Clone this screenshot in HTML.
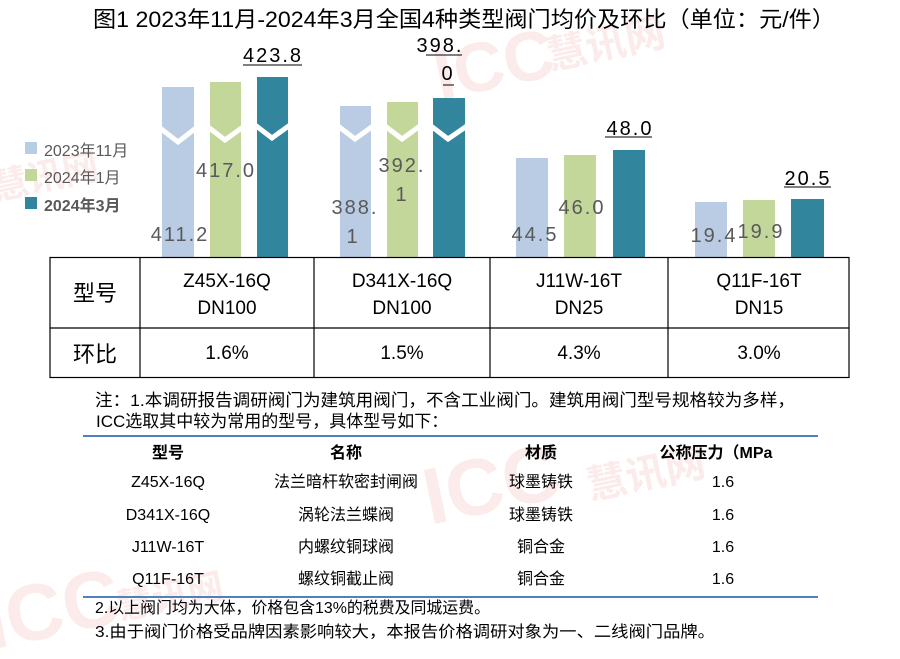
<!DOCTYPE html>
<html><head><meta charset="utf-8"><style>
body{margin:0;background:#fff;}
svg{display:block;font-family:"Liberation Sans","Noto Sans CJK SC",sans-serif;}
</style></head><body>
<svg width="900" height="659" viewBox="0 0 900 659" xmlns="http://www.w3.org/2000/svg">
<g fill="#f9e3e3" font-weight="bold" opacity="0.7">
<text x="440" y="100" font-size="70" transform="rotate(-12 440 100)">ICC</text>
<text x="550" y="70" font-size="40" transform="rotate(-12 550 70)">慧讯网</text>
<text x="430" y="525" font-size="80" transform="rotate(-12 430 525)">ICC</text>
<text x="590" y="500" font-size="40" transform="rotate(-12 590 500)">慧讯网</text>
<text x="-10" y="650" font-size="80" transform="rotate(-12 -10 650)">ICC</text>
<text x="120" y="620" font-size="36" transform="rotate(-12 120 620)">慧讯网</text>
<text x="-5" y="200" font-size="36" transform="rotate(-12 -5 200)">慧讯网</text>
</g>
<text x="464" y="27" text-anchor="middle" font-size="22" fill="#000" textLength="742" lengthAdjust="spacingAndGlyphs">图1 2023年11月-2024年3月全国4种类型阀门均价及环比（单位：元/件）</text>
<rect x="25" y="142" width="12" height="12" fill="#b9cce4"/>
<rect x="25" y="169" width="12" height="12" fill="#c4d79b"/>
<rect x="25" y="197" width="12" height="12" fill="#31859c"/>
<text x="44" y="156" font-size="16" fill="#595959">2023年11月</text>
<text x="44" y="183" font-size="16" fill="#595959">2024年1月</text>
<text x="44" y="211" font-size="16" fill="#595959" font-weight="bold">2024年3月</text>
<g>
<rect x="162" y="87" width="32" height="170" fill="#b9cce4"/>
<rect x="210" y="82" width="31" height="175" fill="#c4d79b"/>
<rect x="257" y="77" width="31" height="180" fill="#31859c"/>
<rect x="340" y="106" width="31" height="151" fill="#b9cce4"/>
<rect x="387" y="102" width="31" height="155" fill="#c4d79b"/>
<rect x="433" y="98" width="32" height="159" fill="#31859c"/>
<rect x="516" y="158" width="32" height="99" fill="#b9cce4"/>
<rect x="564" y="155" width="32" height="102" fill="#c4d79b"/>
<rect x="613" y="150" width="32" height="107" fill="#31859c"/>
<rect x="695" y="202" width="32" height="55" fill="#b9cce4"/>
<rect x="743" y="200" width="32" height="57" fill="#c4d79b"/>
<rect x="791" y="199" width="33" height="58" fill="#31859c"/>
</g>
<g fill="none" stroke="#fff" stroke-width="5">
<polyline points="160,128 178,142 196,128"/>
<polyline points="208,127 225,140 243,127"/>
<polyline points="255,125 272,138 290,125"/>
<polyline points="338,126 355,139 373,126"/>
<polyline points="385,126 402,139 420,126"/>
<polyline points="431,126 448,139 467,126"/>
</g>
<g font-size="20" fill="#595959" text-anchor="middle" letter-spacing="2">
<text x="180" y="241">411.2</text>
<text x="226" y="177">417.0</text>
<text x="355" y="214">388.</text><text x="353" y="243">1</text>
<text x="402" y="172">392.</text><text x="402" y="201">1</text>
<text x="535" y="241">44.5</text>
<text x="582" y="214">46.0</text>
<text x="714" y="242">19.4</text>
<text x="761" y="238">19.9</text>
</g>
<g font-size="20" fill="#000" text-anchor="middle" letter-spacing="2">
<text x="273" y="62">423.8</text>
<text x="440" y="52">398.</text><text x="448" y="80">0</text>
<text x="630" y="135">48.0</text>
<text x="808" y="185">20.5</text>
</g>
<g stroke="#000" stroke-width="1">
<line x1="243" y1="65" x2="302" y2="65"/>
<line x1="426" y1="55" x2="462" y2="55"/>
<line x1="443" y1="85" x2="454" y2="85"/>
<line x1="605" y1="137" x2="652" y2="137"/>
<line x1="784" y1="187" x2="831" y2="187"/>
</g>
<g stroke="#000" stroke-width="1.2" fill="none">
<rect x="50" y="257.5" width="799" height="120"/>
<line x1="50" y1="328" x2="849" y2="328"/>
<line x1="140" y1="257" x2="140" y2="378"/>
<line x1="314" y1="257" x2="314" y2="378"/>
<line x1="490" y1="257" x2="490" y2="378"/>
<line x1="668" y1="257" x2="668" y2="378"/>
</g>
<g font-size="19" fill="#000" text-anchor="middle">
<text x="95" y="301" font-size="22">型号</text>
<text x="95" y="362" font-size="22">环比</text>
<text x="227" y="287">Z45X-16Q</text><text x="227" y="314">DN100</text>
<text x="402" y="287">D341X-16Q</text><text x="402" y="314">DN100</text>
<text x="579" y="287">J11W-16T</text><text x="579" y="314">DN25</text>
<text x="759" y="287">Q11F-16T</text><text x="759" y="314">DN15</text>
<text x="227" y="359">1.6%</text>
<text x="402" y="359">1.5%</text>
<text x="579" y="359">4.3%</text>
<text x="759" y="359">3.0%</text>
</g>
<g font-size="17" fill="#000">
<text x="95" y="406" textLength="700" lengthAdjust="spacingAndGlyphs">注：1.本调研报告调研阀门为建筑用阀门，不含工业阀门。建筑用阀门型号规格较为多样，</text>
<text x="96" y="427">ICC选取其中较为常用的型号，具体型号如下：</text>
</g>
<line x1="83" y1="436" x2="818" y2="436" stroke="#4f81bd" stroke-width="2"/>
<line x1="83" y1="597" x2="818" y2="597" stroke="#4f81bd" stroke-width="2"/>
<g font-size="16" fill="#000" text-anchor="middle">
<g font-weight="bold"><text x="168" y="458">型号</text><text x="346" y="458">名称</text><text x="541" y="458">材质</text><text x="716" y="458">公称压力（MPa</text></g>
<text x="168" y="487">Z45X-16Q</text><text x="346" y="487">法兰暗杆软密封闸阀</text><text x="541" y="487">球墨铸铁</text><text x="723" y="487">1.6</text>
<text x="168" y="520">D341X-16Q</text><text x="346" y="520">涡轮法兰蝶阀</text><text x="541" y="520">球墨铸铁</text><text x="723" y="520">1.6</text>
<text x="168" y="552">J11W-16T</text><text x="346" y="552">内螺纹铜球阀</text><text x="541" y="552">铜合金</text><text x="723" y="552">1.6</text>
<text x="168" y="584">Q11F-16T</text><text x="346" y="584">螺纹铜截止阀</text><text x="541" y="584">铜合金</text><text x="723" y="584">1.6</text>
</g>
<g font-size="16" fill="#000">
<text x="95" y="613" textLength="395" lengthAdjust="spacingAndGlyphs">2.以上阀门均为大体，价格包含13%的税费及同城运费。</text>
<text x="95" y="637" textLength="620" lengthAdjust="spacingAndGlyphs">3.由于阀门价格受品牌因素影响较大，本报告价格调研对象为一、二线阀门品牌。</text>
</g>
</svg>
</body></html>
